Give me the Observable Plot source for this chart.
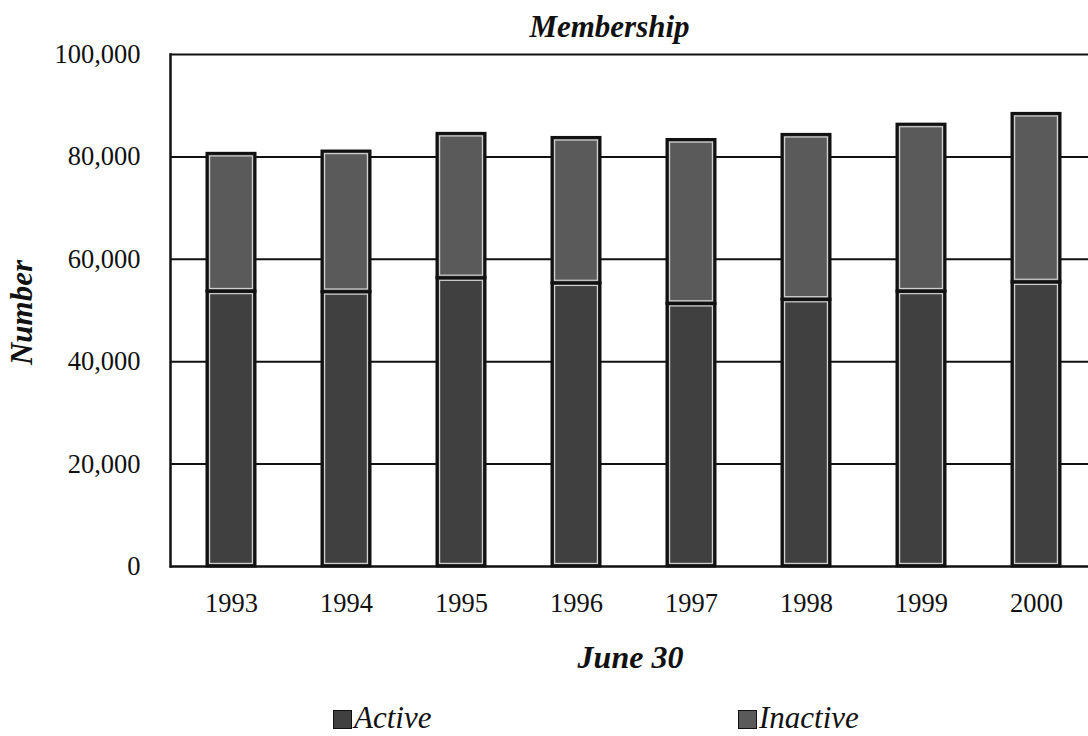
<!DOCTYPE html>
<html>
<head>
<meta charset="utf-8">
<script src="https://cdn.jsdelivr.net/npm/d3@7"></script>
<script src="https://cdn.jsdelivr.net/npm/@observablehq/plot@0.6"></script>
<style>
  html, body { margin: 0; padding: 0; background: #fff; overflow: hidden; width: 1088px; height: 736px; }
  #chart svg { display: block; overflow: hidden; }
  #legend { position: relative; height: 56px; font-family: "Liberation Serif", serif; font-style: italic; font-size: 31px; color: #111; }
  .item { position: absolute; top: 20px; display: flex; align-items: center; line-height: 36px; }
  .sw { width: 19px; height: 19px; border: 1.5px solid #111; box-sizing: border-box; margin-right: 2px; margin-top: 2px; }
</style>
</head>
<body>
<div id="chart"></div>
<div id="legend"></div>
<script>
const years = ["1993", "1994", "1995", "1996", "1997", "1998", "1999", "2000"];
const active = [53700, 53600, 56300, 55300, 51300, 52100, 53700, 55500];
const inactive = [26900, 27450, 28200, 28400, 32000, 32200, 32600, 32900];
const seriesNames = ["Active", "Inactive"];
const seriesColors = ["#404040", "#5a5a5a"];
const yTicks = [0, 20000, 40000, 60000, 80000, 100000];

const data = [
  ...years.map((y, i) => ({year: y, status: "Active", value: active[i]})),
  ...years.map((y, i) => ({year: y, status: "Inactive", value: inactive[i]}))
];

const serif = "'Liberation Serif', 'DejaVu Serif', serif";

const chart = Plot.plot({
  width: 1088,
  height: 680,
  marginTop: 54,
  marginBottom: 114,
  marginLeft: 170,
  marginRight: 0,
  style: {fontFamily: serif, fontSize: "26.5px", color: "#111", background: "#fff"},
  x: {type: "band", domain: years, range: [170, 1096], paddingInner: 0.585, paddingOuter: 0.2925,
      tickSize: 0, tickPadding: 27, label: null},
  y: {domain: [0, 100000], ticks: yTicks, tickFormat: d3.format(","), tickSize: 0, tickPadding: 30, label: null},
  color: {domain: seriesNames, range: seriesColors},
  marks: [
    Plot.ruleY(yTicks.filter(d => d > 0), {stroke: "#111", strokeWidth: 2}),
    Plot.ruleY([0], {stroke: "#111", strokeWidth: 2.5}),
    Plot.frame({anchor: "left", stroke: "#111", strokeWidth: 2.5}),
    Plot.barY(data, Plot.stackY({x: "year", y: "value", fill: "status", stroke: "#111", strokeWidth: 3})),
    Plot.barY(data, Plot.stackY({x: "year", y: "value", z: "status", fill: "none", stroke: "#cfcfcf", strokeWidth: 1.2, inset: 2.6})),
    Plot.text(["Membership"], {frameAnchor: "top", lineAnchor: "middle", dy: -27, dx: -20, fontSize: 31, fontWeight: "bold", fontStyle: "italic", fontFamily: serif, fill: "#111"}),
    Plot.text(["Number"], {frameAnchor: "left", textAnchor: "middle", lineAnchor: "middle", dx: -148, dy: 2, rotate: -90, fontSize: 31, fontWeight: "bold", fontStyle: "italic", fontFamily: serif, fill: "#111"}),
    Plot.text(["June 30"], {frameAnchor: "bottom", lineAnchor: "middle", dy: 91, dx: 1, fontSize: 32, fontWeight: "bold", fontStyle: "italic", fontFamily: serif, fill: "#111"})
  ]
});
document.getElementById("chart").append(chart);

const legend = document.getElementById("legend");
const lefts = [333, 738];
seriesNames.forEach((n, i) => {
  const it = document.createElement("div");
  it.className = "item";
  it.style.left = lefts[i] + "px";
  const sw = document.createElement("span");
  sw.className = "sw";
  sw.style.background = seriesColors[i];
  const t = document.createElement("span");
  t.textContent = n;
  it.append(sw, t);
  legend.append(it);
});
</script>
</body>
</html>
